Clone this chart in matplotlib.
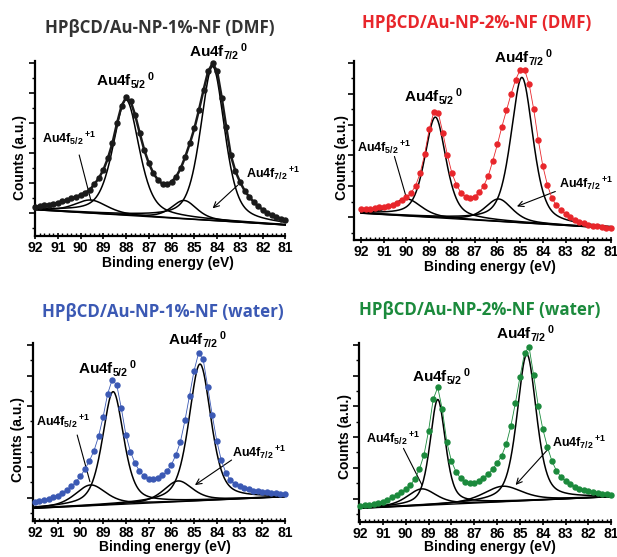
import matplotlib
matplotlib.use('Agg')
import matplotlib.pyplot as plt
import numpy as np

plt.rcParams['font.family'] = ['Liberation Sans', 'DejaVu Sans']
plt.rcParams['font.weight'] = 'bold'
plt.rcParams['mathtext.fontset'] = 'custom'
plt.rcParams['mathtext.rm'] = 'Liberation Sans:bold'
plt.rcParams['mathtext.bf'] = 'Liberation Sans:bold'
plt.rcParams['mathtext.it'] = 'Liberation Sans:bold'
plt.rcParams['mathtext.default'] = 'rm'

# binding energy grid of the measured points (eV)
energy = np.round(np.arange(92.0, 80.9, -0.2), 1)

# measured counts (a.u., 0 = x axis, 100 = top of y axis)
dmf1_counts = [16.8, 17.1, 17.5, 18.0, 18.5, 19.0, 19.8, 20.6, 21.5, 22.4,
               23.4, 24.8, 26.3, 29.5, 33.0, 37.7, 44.4, 53.0, 64.4, 74.3,
               79.2, 77.0, 69.0, 58.7, 49.0, 41.5, 35.8, 32.0, 29.7, 29.5,
               31.0, 33.9, 38.7, 45.3, 53.0, 61.5, 72.0, 83.4, 94.0, 98.7,
               94.0, 79.0, 62.0, 46.0, 37.0, 31.0, 26.0, 22.5, 19.5, 17.0,
               15.0, 13.3, 12.0, 10.9, 10.0, 9.2]
dmf2_counts = [17.3, 17.5, 17.8, 18.1, 18.4, 18.7, 19.3, 20.0, 21.0, 22.3,
               24.0, 26.5, 30.5, 37.5, 48.0, 62.0, 71.5, 71.0, 60.0, 47.5,
               37.5, 31.0, 26.5, 24.3, 23.6, 24.5, 26.8, 30.5, 36.0, 44.5,
               53.5, 63.5, 72.5, 81.5, 89.5, 95.0, 95.0, 87.0, 73.0, 56.0,
               41.5, 31.0, 23.6, 19.5, 16.8, 14.8, 13.0, 11.5, 10.5, 9.6,
               8.9, 8.3, 7.8, 7.4, 7.1, 6.9]
water1_counts = [10.4, 11.0, 11.6, 12.3, 13.2, 14.2, 15.6, 17.3, 19.3, 21.8,
                 25.0, 29.0, 33.8, 39.5, 47.5, 58.5, 71.5, 79.5, 76.5, 63.5,
                 48.5, 39.0, 32.5, 28.0, 25.0, 23.6, 23.3, 24.0, 25.5, 27.8,
                 31.5, 37.0, 44.5, 56.5, 70.5, 84.5, 94.5, 91.0, 75.5, 59.5,
                 45.0, 34.0, 27.0, 22.8, 20.8, 19.3, 18.3, 17.6, 17.0, 16.6,
                 16.2, 15.9, 15.6, 15.4, 15.2, 15.0]
water2_counts = [8.8, 9.2, 9.6, 10.0, 10.6, 11.3, 12.3, 13.6, 15.0, 16.6,
                 18.3, 20.5, 24.0, 29.5, 37.5, 51.0, 68.5, 75.3, 63.0, 44.5,
                 34.0, 28.0, 24.3, 22.0, 21.5, 21.8, 23.0, 24.5, 26.7, 29.5,
                 32.7, 37.0, 43.5, 53.5, 66.5, 81.0, 94.5, 98.0, 82.0, 65.0,
                 52.0, 42.0, 34.0, 28.5, 25.0, 22.7, 20.9, 19.5, 18.4, 17.6,
                 17.0, 16.5, 16.0, 15.6, 15.3, 15.0]

# fitted components, order: 4f7/2 Au0, 4f5/2 Au0, 4f7/2 Au+1, 4f5/2 Au+1
dmf1_centers = [84.2, 88.0, 85.45, 89.55]
dmf1_heights = [88.0, 66.0, 10.5, 7.5]
dmf1_fwhm = [1.25, 1.35, 1.3, 1.7]
dmf1_background = [15.0, 6.3]      # at 92 eV and 81 eV

dmf2_centers = [84.92, 88.73, 85.94, 89.98]
dmf2_heights = [81.0, 56.0, 12.5, 9.5]
dmf2_fwhm = [1.15, 1.1, 1.4, 1.5]
dmf2_background = [15.2, 6.9]

water1_centers = [84.74, 88.56, 85.7, 89.55]
water1_heights = [77.0, 63.7, 11.7, 11.7]
water1_fwhm = [1.15, 1.1, 1.5, 1.6]
water1_background = [7.0, 13.5]

water2_centers = [84.7, 88.6, 85.75, 89.3]
water2_heights = [82.0, 59.0, 8.7, 9.3]
water2_fwhm = [1.0, 0.8, 2.0, 1.5]
water2_background = [7.5, 14.0]

titles = ['HPβCD/Au-NP-1%-NF (DMF)', 'HPβCD/Au-NP-2%-NF (DMF)',
          'HPβCD/Au-NP-1%-NF (water)', 'HPβCD/Au-NP-2%-NF (water)']
colors = ['#1a1a1a', '#e8262b', '#3b59b4', '#1b8a3c']
title_colors = ['#333333', '#e8262b', '#3b59b4', '#1b8a3c']

W, H = 617, 557
fig = plt.figure(figsize=(W / 100, H / 100), dpi=100)


def pv(x, c, h, w, eta=0.5):
    u = (x - c) / w
    return h * (eta / (1 + 4 * u ** 2) + (1 - eta) * np.exp(-4 * np.log(2) * u ** 2))


# per panel: axes box in px (left, top, right, bottom), xlim left, title pos,
# label positions
panels = [
    dict(box=(35, 61, 285.5, 236), xl=92.0, tpos=(160, 28), ms=3.6, lw=1.8,
         counts=dmf1_counts, c=dmf1_centers, h=dmf1_heights, w=dmf1_fwhm, bg=dmf1_background,
         l72=(85.22, 102.5), l52=(89.33, 85.7), p52=(91.68, 53.0), p72=(82.73, 33.0),
         line52=((90.06, 46.3), (89.55, 20.6)), arr72=((83.1, 29.0), (84.2, 15.8)),
         ylab=(-0.06, 0.45), xlab=(0.53, -0.154)),
    dict(box=(354, 61, 611, 240.5), xl=92.31, tpos=(477, 23), ms=3.6, lw=0.6,
         counts=dmf2_counts, c=dmf2_centers, h=dmf2_heights, w=dmf2_fwhm, bg=dmf2_background,
         l72=(86.16, 98.9), l52=(90.09, 77.5), p52=(92.18, 49.6), p72=(83.3, 29.2),
         line52=((90.53, 46.8), (89.98, 22.7)), arr72=((83.45, 27.3), (85.14, 19.0)),
         ylab=(-0.047, 0.465), xlab=(0.53, -0.146)),
    dict(box=(33.3, 343.3, 285, 520.7), xl=92.07, tpos=(163, 312), ms=3.6, lw=0.6,
         counts=water1_counts, c=water1_centers, h=water1_heights, w=water1_fwhm, bg=water1_background,
         l72=(86.13, 99.0), l52=(90.09, 82.7), p52=(91.93, 53.6), p72=(83.32, 36.1),
         line52=((90.14, 48.3), (89.58, 22.0)), arr72=((83.35, 34.2), (84.96, 20.1)),
         ylab=(-0.06, 0.455), xlab=(0.523, -0.147)),
    dict(box=(358.7, 343.3, 611.3, 521.7), xl=92.06, tpos=(480, 310), ms=3.6, lw=0.6,
         counts=water2_counts, c=water2_centers, h=water2_heights, w=water2_fwhm, bg=water2_background,
         l72=(86.07, 102.8), l52=(89.73, 78.5), p52=(91.74, 43.9), p72=(83.58, 42.0),
         line52=((90.1, 41.1), (89.29, 20.6)), arr72=((83.8, 40.2), (85.19, 20.6)),
         ylab=(-0.053, 0.476), xlab=(0.52, -0.14)),
]

xf = np.linspace(92, 81, 500)

for i, p in enumerate(panels):
    l, t, r, b = p['box']
    ax = fig.add_axes([l / W, 1 - b / H, (r - l) / W, (b - t) / H])
    ax.set_xlim(p['xl'], 81)
    ax.set_ylim(0, 100)

    bgf = np.interp(xf, [81, 92], [p['bg'][1], p['bg'][0]])
    ax.plot([92, 81], p['bg'], color='k', lw=1.0, zorder=2)
    for c, h, w in zip(p['c'], p['h'], p['w']):
        ax.plot(xf, bgf + pv(xf, c, h, w), color='k', lw=1.1, zorder=3)

    ax.plot(energy, p['counts'], color=colors[i], lw=p['lw'], marker='o',
            ms=p['ms'], mec=colors[i], mfc=colors[i], zorder=4, clip_on=False)

    big = 11
    small = 9
    ax.text(*p['l72'], r'$Au4f_{7/2}\,{}^{0}$', fontsize=big, ha='left', va='baseline', clip_on=False)
    ax.text(*p['l52'], r'$Au4f_{5/2}\,{}^{0}$', fontsize=big, ha='left', va='baseline', clip_on=False)
    ax.text(*p['p52'], r'$Au4f_{5/2}\,{}^{+1}$', fontsize=small, ha='left', va='baseline', clip_on=False)
    ax.text(*p['p72'], r'$Au4f_{7/2}\,{}^{+1}$', fontsize=small, ha='left', va='baseline', clip_on=False)
    ax.annotate('', xy=p['line52'][1], xytext=p['line52'][0],
                arrowprops=dict(arrowstyle='-', lw=0.8, color='k', shrinkA=0, shrinkB=0),
                annotation_clip=False)
    ax.annotate('', xy=p['arr72'][1], xytext=p['arr72'][0],
                arrowprops=dict(arrowstyle='->,head_length=0.4,head_width=0.2', lw=0.8,
                                color='k', shrinkA=0, shrinkB=0),
                annotation_clip=False)

    # axes styling
    for s in ['top', 'right']:
        ax.spines[s].set_visible(False)
    for s in ['left', 'bottom']:
        ax.spines[s].set_linewidth(1.6)
    ax.set_xticks(np.arange(92, 80.5, -1))
    ax.set_xticklabels([str(v) for v in range(92, 80, -1)])
    ax.set_xticks(np.arange(92, 80.9, -0.2), minor=True)
    ax.set_yticks(np.arange(13, 101, 17.2))
    ax.set_yticks(np.arange(4.4, 101, 8.6), minor=True)
    ax.set_yticklabels([])
    ax.tick_params(axis='x', which='major', direction='inout', length=5, width=1.2,
                   labelsize=10, pad=1)
    ax.tick_params(axis='x', which='minor', direction='in', length=2.5, width=1.0)
    ax.tick_params(axis='y', which='major', direction='out', length=4, width=1.2)
    ax.tick_params(axis='y', which='minor', direction='out', length=2.5, width=1.0)
    for lab in ax.get_xticklabels():
        lab.set_fontweight('bold')

    ax.text(*p['xlab'], 'Binding energy (eV)', transform=ax.transAxes, fontsize=10,
            fontweight='bold', ha='center', va='center')
    ax.text(*p['ylab'], 'Counts (a.u.)', transform=ax.transAxes, fontsize=10,
            fontweight='bold', ha='center', va='center', rotation=90)

    tx, ty = p['tpos']
    fig.text(tx / W, 1 - ty / H, titles[i], fontsize=12.2, fontweight='bold',
             family=['Open Sans', 'DejaVu Sans'], color=title_colors[i],
             ha='center', va='center')

fig.savefig('out.png', dpi=100)
